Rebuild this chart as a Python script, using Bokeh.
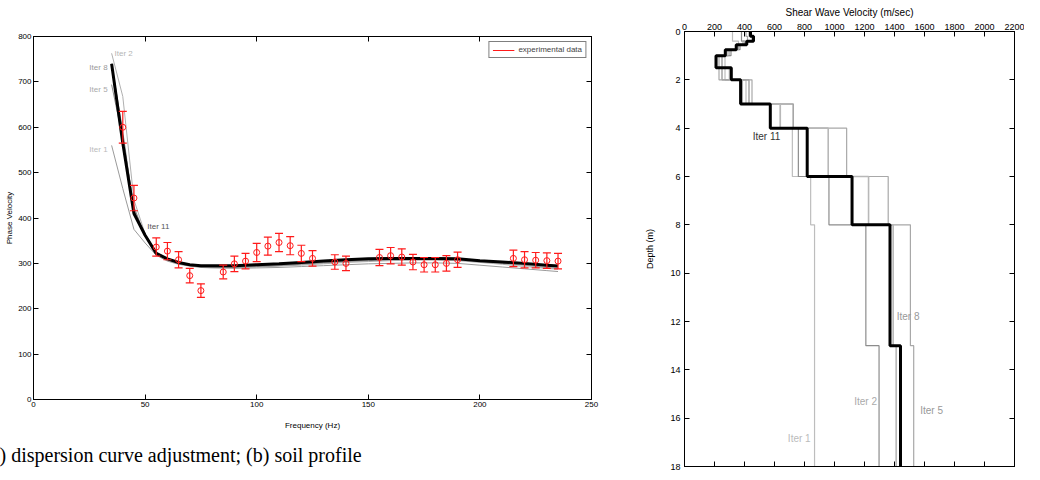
from bokeh.plotting import figure
from bokeh.layouts import row
from bokeh.models import Range1d, LinearAxis, FixedTicker, Legend, LegendItem, Title, Label
from bokeh.embed import file_html
from bokeh.resources import INLINE
from bokeh.core.properties import value

# ---------------- data: (a) dispersion curve ----------------
exp_freq = [40, 45, 55, 60, 65, 70, 75, 85, 90, 95, 100, 105, 110, 115, 120, 125,
            135, 140, 155, 160, 165, 170, 175, 180, 185, 190, 215, 220, 225, 230, 235]
exp_vel = [600, 444, 336, 327, 308, 273, 240, 281, 299, 305, 324, 338, 346, 339, 322, 311,
           303, 300, 313, 317, 314, 303, 297, 297, 300, 308, 311, 308, 307, 306, 305]
exp_err = [35, 28, 20, 19, 18, 16, 15, 15, 17, 17, 20, 20, 20, 20, 18, 17,
           16, 16, 18, 18, 18, 17, 16, 16, 17, 17, 18, 18, 17, 17, 17]

curve_freq = [35, 40, 45, 50, 55, 60, 65, 70, 75, 80, 90, 100, 110, 120, 130, 140,
              150, 160, 170, 180, 190, 200, 210, 220, 230, 235]
disp_iter1 = [560, 465, 375, 345, 318, 305, 298, 294, 291, 290, 289, 290, 291, 293, 295, 297,
              299, 300, 301, 301, 300, 296, 292, 288, 284, 282]
disp_iter2 = [763, 668, 440, 365, 325, 310, 301, 296, 293, 292, 291, 292, 294, 296, 299, 302,
              304, 306, 307, 307, 306, 302, 298, 293, 289, 287]
disp_iter5 = [694, 575, 425, 360, 322, 308, 300, 295, 292, 291, 291, 293, 295, 298, 301, 304,
              306, 308, 309, 309, 308, 304, 300, 296, 291, 289]
disp_iter8 = [740, 590, 418, 362, 323, 310, 302, 297, 294, 293, 293, 295, 297, 300, 303, 306,
              308, 310, 310, 310, 309, 305, 302, 298, 294, 292]
disp_iter11 = [740, 565, 410, 362, 322, 310, 302, 297, 295, 295, 295, 297, 299, 302, 305, 308,
               310, 311, 311, 311, 310, 306, 303, 300, 296, 294]

# ---------------- data: (b) soil profile ----------------
depth_bounds = [0, 0.2, 0.4, 0.55, 0.75, 1.0, 1.5, 2, 3, 4, 6, 8, 13, 18]
vs_iter1 = [320, 320, 360, 340, 300, 270, 270, 410, 640, 719, 841, 867, 867]
vs_iter2 = [380, 380, 400, 370, 310, 250, 250, 430, 725, 759, 963, 1209, 1297]
vs_iter5 = [410, 420, 390, 360, 290, 230, 230, 450, 725, 1081, 1358, 1506, 1528]
vs_iter8 = [430, 450, 405, 350, 280, 215, 300, 385, 638, 958, 1227, 1391, 1411]
vs_iter11 = [440, 460, 415, 345, 272, 210, 312, 374, 572, 818, 1117, 1370, 1440]

freq_ticks = [0, 50, 100, 150, 200, 250]
vel_ticks = [0, 100, 200, 300, 400, 500, 600, 700, 800]
vs_ticks = list(range(0, 2201, 200))
depth_ticks = list(range(0, 19, 2))

FONT = "Liberation Sans"
RED = "#ff1a1a"


def style_axis(ax, ticks, size, labels=True):
    ax.ticker = FixedTicker(ticks=ticks)
    ax.major_tick_in = 5
    ax.major_tick_out = 0
    ax.minor_tick_line_color = None
    ax.axis_line_color = "black"
    ax.major_tick_line_color = "black"
    ax.major_label_text_font = FONT
    ax.major_label_text_color = "black"
    ax.major_label_text_font_size = size
    ax.major_label_standoff = 2
    if not labels:
        ax.major_label_overrides = {t: "" for t in ticks}
        ax.major_label_standoff = 0
    ax.axis_label_text_font = FONT
    ax.axis_label_text_font_style = "normal"
    ax.axis_label_text_font_size = size
    ax.axis_label_text_color = "black"
    ax.axis_label_standoff = 3


# ================= left figure =================
p1 = figure(width=632, height=472, x_range=Range1d(0, 250), y_range=Range1d(0, 800),
            output_backend="svg", toolbar_location=None, frame_align=False,
            min_border_left=33, min_border_right=41, min_border_top=36, min_border_bottom=73)
p1.grid.visible = False
p1.outline_line_color = "black"
p1.yaxis.axis_label = "Phase Velocity"
style_axis(p1.xaxis[0], freq_ticks, "8px")
style_axis(p1.yaxis[0], vel_ticks, "8px")
p1.yaxis[0].axis_label_standoff = 1
ax_r = LinearAxis()
style_axis(ax_r, vel_ticks, "8px", labels=False)
p1.add_layout(ax_r, "right")
ax_t = LinearAxis()
style_axis(ax_t, freq_ticks, "8px", labels=False)
p1.add_layout(ax_t, "above")

p1.line(curve_freq, disp_iter1, line_color="#9a9a9a", line_width=1)
p1.line(curve_freq, disp_iter2, line_color="#b0b0b0", line_width=1)
p1.line(curve_freq, disp_iter5, line_color="#8a8a8a", line_width=1)
p1.line(curve_freq, disp_iter8, line_color="#777777", line_width=1)
p1.line(curve_freq, disp_iter11, line_color="black", line_width=3)

lower = [v - e for v, e in zip(exp_vel, exp_err)]
upper = [v + e for v, e in zip(exp_vel, exp_err)]
seg = p1.segment(x0=exp_freq, y0=lower, x1=exp_freq, y1=upper, line_color=RED, line_width=1.2)
p1.scatter(exp_freq, upper, marker="dash", size=8, line_color=RED, line_width=1.2)
p1.scatter(exp_freq, lower, marker="dash", size=8, line_color=RED, line_width=1.2)
p1.scatter(exp_freq, exp_vel, marker="circle", size=6, fill_color=None, line_color=RED, line_width=1)

legend = Legend(items=[LegendItem(label="experimental data", renderers=[seg])],
                location="top_right", label_text_font=FONT, label_text_font_size="8px",
                glyph_width=22, glyph_height=8, label_height=8, padding=3, margin=5,
                spacing=0, label_standoff=4, border_line_color="black", border_line_width=1)
p1.add_layout(legend)

for txt, x, y, col, al in [("Iter 2", 36.3, 762, "#b5b5b5", "left"),
                           ("Iter 8", 33.2, 731, "#999999", "right"),
                           ("Iter 5", 33.2, 683, "#aaaaaa", "right"),
                           ("Iter 1", 33.2, 551, "#bbbbbb", "right"),
                           ("Iter 11", 51.0, 381, "#555555", "left")]:
    p1.add_layout(Label(x=x, y=y, text=txt, text_font=FONT, text_font_size="8px",
                        text_color=col, text_align=al, text_baseline="middle"))

# x-axis title, then the figure caption below it
p1.add_layout(Title(text="Frequency (Hz)", align="center", vertical_align="top",
                    text_font=FONT, text_font_size="8px", text_font_style="normal",
                    text_color="black", standoff=23), "below")
p1.add_layout(Title(text=") dispersion curve adjustment; (b) soil profile", align="left",
                    vertical_align="top",
                    text_font="Liberation Serif", text_font_size="20px",
                    text_font_style="normal", text_color="black", offset=-34, standoff=0), "below")

# ================= right figure =================
p2 = figure(width=392, height=472, x_range=Range1d(0, 2200), y_range=Range1d(18, 0),
            x_axis_location="above", output_backend="svg", toolbar_location=None,
            frame_align=False,
            min_border_left=52, min_border_right=10, min_border_top=31, min_border_bottom=6)
p2.grid.visible = False
p2.outline_line_color = "black"
p2.xaxis.axis_label = "Shear Wave Velocity (m/sec)"
p2.yaxis.axis_label = "Depth (m)"
style_axis(p2.xaxis[0], vs_ticks, "9px")
style_axis(p2.yaxis[0], depth_ticks, "9px")
p2.xaxis[0].axis_label_text_font_size = "10px"
p2.yaxis[0].axis_label_text_font_size = "9px"
p2.yaxis[0].major_label_standoff = 4
p2.yaxis[0].axis_label_standoff = 12
ax_r2 = LinearAxis()
style_axis(ax_r2, depth_ticks, "9px", labels=False)
p2.add_layout(ax_r2, "right")
ax_b2 = LinearAxis()
style_axis(ax_b2, vs_ticks, "9px", labels=False)
p2.add_layout(ax_b2, "below")


def steps(vals):
    xs, ys = [], []
    for i, v in enumerate(vals):
        xs += [v, v]
        ys += [depth_bounds[i], depth_bounds[i + 1]]
    return xs, ys


for vals, col, w in [(vs_iter1, "#bdbdbd", 1.2), (vs_iter2, "#8c8c8c", 1.2),
                     (vs_iter5, "#a8a8a8", 1.2), (vs_iter8, "#b8b8b8", 1.6),
                     (vs_iter11, "black", 3)]:
    xs, ys = steps(vals)
    p2.line(xs, ys, line_color=col, line_width=w)

for txt, x, y, col in [("Iter 11", 455, 4.35, "#333333"),
                       ("Iter 8", 1415, 11.8, "#999999"),
                       ("Iter 2", 1131, 15.3, "#aaaaaa"),
                       ("Iter 5", 1571, 15.7, "#999999"),
                       ("Iter 1", 689, 16.85, "#bbbbbb")]:
    p2.add_layout(Label(x=x, y=y, text=txt, text_font=FONT, text_font_size="10px",
                        text_color=col, text_align="left", text_baseline="middle"))

layout = row(p1, p2)
open("out.html", "w").write(file_html(layout, INLINE))
